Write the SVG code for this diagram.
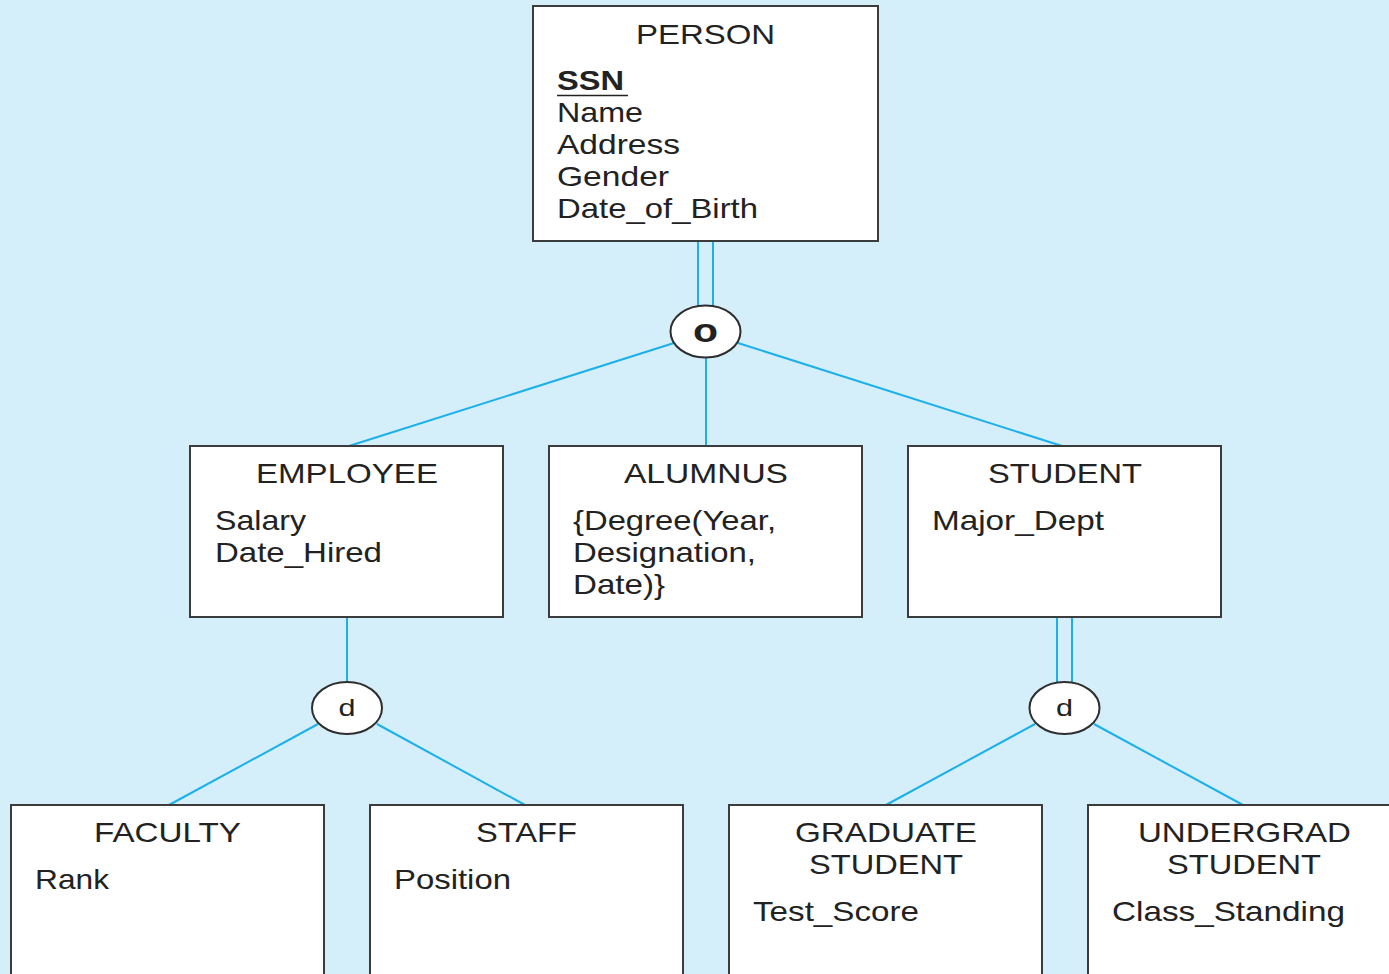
<svg xmlns="http://www.w3.org/2000/svg" width="1389" height="974" viewBox="0 0 1389 974">
<style>
.bg{fill:#d4eefa}
.box{fill:#ffffff;stroke:#3c3c3c;stroke-width:2}
.circ{fill:#ffffff;stroke:#2e2e2e;stroke-width:2}
.ln{stroke:#1cb0ea;stroke-width:2;fill:none}
text{font-family:"Liberation Sans",Arial,sans-serif;font-size:28px;fill:#222222}
.t{text-anchor:middle}
.b{font-weight:bold}
</style>
<rect class="bg" x="0" y="0" width="1389" height="974"/>
<g id="connectors">
<line class="ln" x1="698" y1="241" x2="698" y2="307"/>
<line class="ln" x1="713" y1="241" x2="713" y2="307"/>
<line class="ln" x1="674" y1="343" x2="349" y2="446"/>
<line class="ln" x1="738" y1="343" x2="1062" y2="446"/>
<line class="ln" x1="706" y1="358" x2="706" y2="446"/>
<line class="ln" x1="347" y1="617" x2="347" y2="682"/>
<line class="ln" x1="318" y1="724" x2="169" y2="805"/>
<line class="ln" x1="377" y1="724" x2="525" y2="805"/>
<line class="ln" x1="1057" y1="617" x2="1057" y2="684"/>
<line class="ln" x1="1072" y1="617" x2="1072" y2="684"/>
<line class="ln" x1="1035" y1="724" x2="886" y2="805"/>
<line class="ln" x1="1094" y1="724" x2="1243" y2="805"/>
</g>
<g id="person">
<rect class="box" x="533" y="6" width="345" height="235"/>
<text class="t" x="705.5" y="44" textLength="139" lengthAdjust="spacingAndGlyphs">PERSON</text>
<text class="b" x="557" y="90" textLength="67" lengthAdjust="spacingAndGlyphs">SSN</text>
<line x1="557" y1="95.5" x2="628" y2="95.5" stroke="#222222" stroke-width="1.5"/>
<text x="557" y="122" textLength="86" lengthAdjust="spacingAndGlyphs">Name</text>
<text x="557" y="154" textLength="123" lengthAdjust="spacingAndGlyphs">Address</text>
<text x="557" y="186" textLength="112" lengthAdjust="spacingAndGlyphs">Gender</text>
<text x="557" y="218" textLength="201" lengthAdjust="spacingAndGlyphs">Date_of_Birth</text>
</g>
<g id="overlap">
<ellipse class="circ" cx="705.5" cy="331.5" rx="35" ry="26"/>
<text class="t b" x="705.5" y="342" font-size="34" style="font-size:34px" textLength="25" lengthAdjust="spacingAndGlyphs">o</text>
</g>
<g id="employee">
<rect class="box" x="190" y="446" width="313" height="171"/>
<text class="t" x="347" y="483" textLength="182" lengthAdjust="spacingAndGlyphs">EMPLOYEE</text>
<text x="215" y="530" textLength="91" lengthAdjust="spacingAndGlyphs">Salary</text>
<text x="215" y="562" textLength="167" lengthAdjust="spacingAndGlyphs">Date_Hired</text>
</g>
<g id="alumnus">
<rect class="box" x="549" y="446" width="313" height="171"/>
<text class="t" x="706" y="483" textLength="164" lengthAdjust="spacingAndGlyphs">ALUMNUS</text>
<text x="573" y="530" textLength="203" lengthAdjust="spacingAndGlyphs">{Degree(Year,</text>
<text x="573" y="562" textLength="183" lengthAdjust="spacingAndGlyphs">Designation,</text>
<text x="573" y="594" textLength="92" lengthAdjust="spacingAndGlyphs">Date)}</text>
</g>
<g id="student">
<rect class="box" x="908" y="446" width="313" height="171"/>
<text class="t" x="1065" y="483" textLength="154" lengthAdjust="spacingAndGlyphs">STUDENT</text>
<text x="932" y="530" textLength="172" lengthAdjust="spacingAndGlyphs">Major_Dept</text>
</g>
<g id="disjoint-employee">
<ellipse class="circ" cx="347" cy="708" rx="35" ry="26"/>
<text class="t" x="347" y="716" style="font-size:24px" textLength="17" lengthAdjust="spacingAndGlyphs">d</text>
</g>
<g id="disjoint-student">
<ellipse class="circ" cx="1064.5" cy="708" rx="35" ry="26"/>
<text class="t" x="1064.5" y="716" style="font-size:24px" textLength="17" lengthAdjust="spacingAndGlyphs">d</text>
</g>
<g id="faculty">
<rect class="box" x="11" y="805" width="313" height="190"/>
<text class="t" x="167.5" y="842" textLength="147" lengthAdjust="spacingAndGlyphs">FACULTY</text>
<text x="35" y="889" textLength="74" lengthAdjust="spacingAndGlyphs">Rank</text>
</g>
<g id="staff">
<rect class="box" x="370" y="805" width="313" height="190"/>
<text class="t" x="526.5" y="842" textLength="101" lengthAdjust="spacingAndGlyphs">STAFF</text>
<text x="394" y="889" textLength="117" lengthAdjust="spacingAndGlyphs">Position</text>
</g>
<g id="graduate-student">
<rect class="box" x="729" y="805" width="313" height="190"/>
<text class="t" x="886" y="842" textLength="182" lengthAdjust="spacingAndGlyphs">GRADUATE</text>
<text class="t" x="886" y="874" textLength="154" lengthAdjust="spacingAndGlyphs">STUDENT</text>
<text x="753" y="921" textLength="166" lengthAdjust="spacingAndGlyphs">Test_Score</text>
</g>
<g id="undergrad-student">
<rect class="box" x="1088" y="805" width="320" height="190"/>
<text class="t" x="1244.5" y="842" textLength="213" lengthAdjust="spacingAndGlyphs">UNDERGRAD</text>
<text class="t" x="1244" y="874" textLength="154" lengthAdjust="spacingAndGlyphs">STUDENT</text>
<text x="1112" y="921" textLength="233" lengthAdjust="spacingAndGlyphs">Class_Standing</text>
</g>
</svg>
